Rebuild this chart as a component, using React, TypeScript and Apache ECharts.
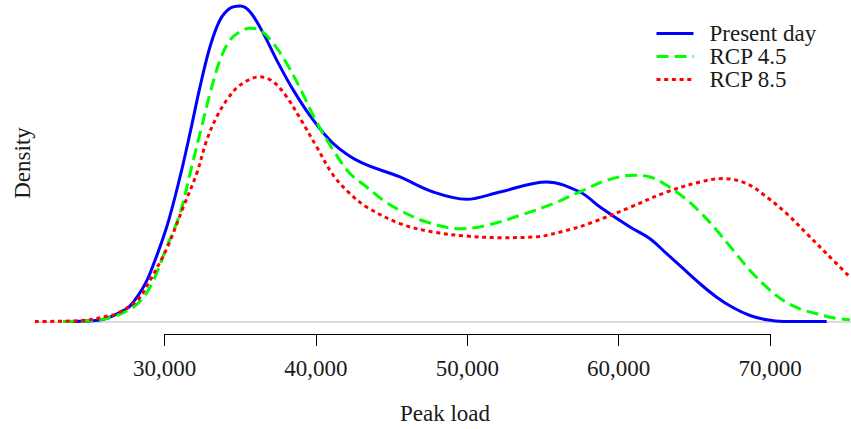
import React, { useEffect, useRef } from "react";
import * as echarts from "echarts";

// Peak load values (x) and kernel density heights (relative units)
const presentX = [23295, 25739, 27503, 27939, 28600, 29042, 30145, 31024, 31685, 32345, 33006, 33666, 34327, 34988, 35648, 36527, 37412, 38509, 39830, 41151, 42915, 45557, 47757, 49963, 52163, 55248, 57448, 58769, 60751, 62072, 63175, 64272, 65375, 66478, 67575, 68678, 69781, 70878, 73745];
const presentY = [0, 1.5, 12.7, 19.3, 34.3, 48, 94.3, 144.3, 188, 234.3, 274.3, 301, 312.7, 315, 309.3, 287.7, 261, 231, 201, 177.7, 159.3, 144.3, 129.3, 122, 129.3, 139.3, 129.3, 114.3, 94.3, 82.7, 67.7, 52.7, 37.7, 24.3, 13.7, 6, 1.7, 0, 0];

const rcp45X = [23295, 25739, 27939, 29042, 30145, 31024, 31685, 32345, 33006, 33666, 34327, 34988, 35648, 36309, 37187, 38073, 38950, 40054, 41151, 42254, 43357, 44454, 45557, 47321, 49520, 51284, 53484, 55684, 57665, 59211, 60969, 62072, 63175, 64272, 65375, 66478, 67575, 68678, 69781, 70878, 71980, 73083, 74181, 75280];
const rcp45Y = [0, 1.7, 14.3, 34.3, 74.3, 107.7, 147.7, 187.7, 227.7, 261, 281, 289.3, 292.7, 291, 277.7, 257.7, 233, 199, 171, 147.7, 134.3, 121, 111, 99.3, 92.7, 96, 106, 117.7, 131, 141, 146, 144.3, 136, 124.3, 109.3, 91, 71, 51, 34.3, 21, 12.7, 7.7, 3.7, 1.7];

const rcp85X = [21445, 24636, 26400, 26842, 27939, 28382, 29042, 30145, 31242, 32127, 32788, 33448, 34109, 34988, 36309, 37187, 38073, 38950, 40054, 41151, 42254, 43357, 45557, 47757, 49963, 52163, 54363, 56569, 58326, 60751, 63175, 65375, 66914, 68460, 69781, 71102, 72424, 73745, 75284];
const rcp85Y = [0, 1, 6, 7.7, 17.7, 24.3, 41, 72.7, 114.3, 147.7, 181, 204.3, 221, 236, 244.3, 239.3, 224.3, 203, 174.3, 146, 127.7, 114.3, 97.7, 89.3, 85.3, 83.7, 84.3, 91, 99.3, 114, 129.3, 139.3, 142.7, 137.7, 124.3, 107.7, 87.7, 67.7, 44.3];

const seriesNames = ["Present day", "RCP 4.5", "RCP 8.5"];
const axisTicks = [30000, 40000, 50000, 60000, 70000];
const xTitle = "Peak load";
const yTitle = "Density";

const FONT = "'Liberation Serif', 'Times New Roman', serif";

function pairs(xs: number[], ys: number[]) {
  return xs.map((x, i) => [x, ys[i]]);
}

export default function App() {
  const ref = useRef<HTMLDivElement>(null);
  useEffect(() => {
    if (!ref.current) return;
    const chart = echarts.init(ref.current, undefined, { renderer: "svg" });
    const fmt = (v: number) => v.toLocaleString("en-US");
    chart.setOption({
      animation: false,
      backgroundColor: "#ffffff",
      textStyle: { fontFamily: FONT },
      grid: [
        { left: 35, right: 0, top: 0, bottom: 107.5 },
        { left: 164.5, width: 605.5, top: 333, height: 1 },
      ],
      xAxis: [
        {
          type: "value",
          gridIndex: 0,
          min: 21445,
          max: 75351,
          axisLine: { show: true, lineStyle: { color: "#cfcfcf", width: 1.5 } },
          axisTick: { show: false },
          axisLabel: { show: false },
          splitLine: { show: false },
        },
        {
          type: "value",
          gridIndex: 1,
          min: axisTicks[0],
          max: axisTicks[axisTicks.length - 1],
          interval: 10000,
          position: "bottom",
          axisLine: { show: true, lineStyle: { color: "#000000", width: 1 } },
          axisTick: { show: true, length: 12, lineStyle: { color: "#000000" } },
          axisLabel: {
            show: true,
            margin: 23,
            fontSize: 23,
            fontFamily: FONT,
            color: "#1a1a1a",
            formatter: fmt,
          },
          splitLine: { show: false },
        },
      ],
      yAxis: [
        { type: "value", gridIndex: 0, min: 0, max: 321, show: false },
        { type: "value", gridIndex: 1, min: 0, max: 1, show: false },
      ],
      legend: {
        orient: "vertical",
        left: 655,
        top: 22,
        padding: 0,
        itemWidth: 37,
        itemHeight: 14,
        itemGap: 0,
        data: seriesNames,
        itemStyle: { color: "rgba(0,0,0,0)", borderColor: "rgba(0,0,0,0)", borderWidth: 0 },
        lineStyle: { width: 3 },
        textStyle: {
          fontSize: 23,
          fontFamily: FONT,
          color: "#1a1a1a",
          padding: [0, 0, 0, 11],
        },
      },
      series: [
        {
          name: seriesNames[0],
          type: "line",
          xAxisIndex: 0,
          yAxisIndex: 0,
          data: pairs(presentX, presentY),
          smooth: 0.35,
          symbol: "none",
          lineStyle: { color: "#0000ff", width: 3, type: "solid" },
          itemStyle: { color: "#0000ff" },
          z: 3,
        },
        {
          name: seriesNames[1],
          type: "line",
          xAxisIndex: 0,
          yAxisIndex: 0,
          data: pairs(rcp45X, rcp45Y),
          smooth: 0.35,
          symbol: "none",
          lineStyle: { color: "#00ff00", width: 3, type: [12, 6] },
          itemStyle: { color: "#00ff00" },
          z: 4,
        },
        {
          name: seriesNames[2],
          type: "line",
          xAxisIndex: 0,
          yAxisIndex: 0,
          data: pairs(rcp85X, rcp85Y),
          smooth: 0.35,
          symbol: "none",
          lineStyle: { color: "#ff0000", width: 3, type: [4, 3.7] },
          itemStyle: { color: "#ff0000" },
          z: 5,
        },
      ],
      graphic: [
        {
          type: "text",
          x: 445,
          y: 413,
          style: {
            text: xTitle,
            x: 0,
            y: 0,
            fontSize: 23,
            fontFamily: FONT,
            fill: "#1a1a1a",
            textAlign: "center",
            textVerticalAlign: "middle",
          },
        },
        {
          type: "text",
          x: 22,
          y: 163,
          rotation: Math.PI / 2,
          style: {
            text: yTitle,
            x: 0,
            y: 0,
            fontSize: 23,
            fontFamily: FONT,
            fill: "#1a1a1a",
            textAlign: "center",
            textVerticalAlign: "middle",
          },
        },
      ],
    });
    return () => chart.dispose();
  }, []);
  return (
    <div
      ref={ref}
      style={{ position: "absolute", left: 0, top: 0, width: 851, height: 429 }}
    />
  );
}
